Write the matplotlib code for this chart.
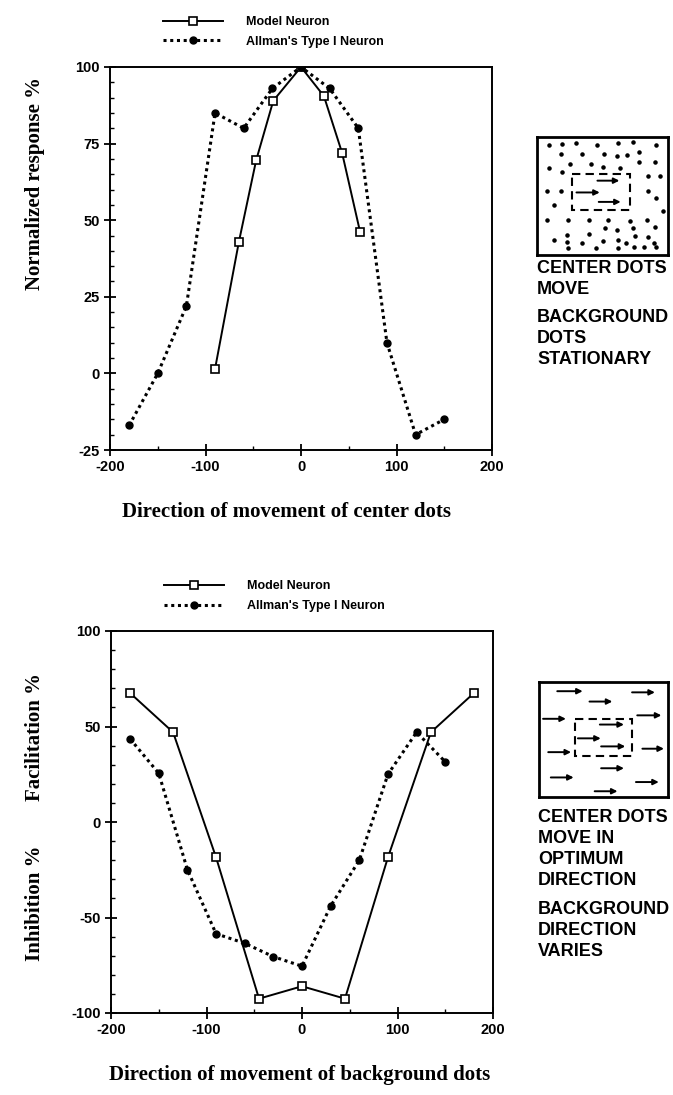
import matplotlib
matplotlib.use("Agg")
import matplotlib.pyplot as plt
from matplotlib.patches import Rectangle
from matplotlib.ticker import MultipleLocator

plt.rcParams["axes.unicode_minus"] = False

# --- data ---
# top panel: center dots move, background stationary
top_model_dir = [-90, -65, -47, -29, 0, 24, 43, 62]
top_model_resp = [1.5, 43, 69.5, 89, 100, 90.5, 72, 46]
top_allman_dir = [-180, -150, -120, -90, -60, -30, 0, 30, 60, 90, 120, 150]
top_allman_resp = [-17, 0, 22, 85, 80, 93, 100, 93, 80, 10, -20, -15]

# bottom panel: background direction varies
bot_model_dir = [-180, -135, -90, -45, 0, 45, 90, 135, 180]
bot_model_resp = [67.5, 47, -18.5, -92.5, -86, -92.5, -18.5, 47, 67.5]
bot_allman_dir = [-180, -150, -120, -90, -60, -30, 0, 30, 60, 90, 120, 150]
bot_allman_resp = [43.5, 25.5, -25, -58.5, -63.5, -70.5, -75.5, -44, -20, 25, 47, 31.5]

x_ticks = [-200, -100, 0, 100, 200]
top_y_ticks = [-25, 0, 25, 50, 75, 100]
bot_y_ticks = [-100, -50, 0, 50, 100]

legend_labels = ["Model Neuron", "Allman's Type I Neuron"]

# schematic: stationary dots (box units, y downwards)
dots_u = [0.09, 0.19, 0.30, 0.46, 0.62, 0.73, 0.91,
          0.18, 0.34, 0.51, 0.61, 0.69, 0.78,
          0.09, 0.25, 0.41, 0.50, 0.63, 0.78, 0.90,
          0.19, 0.85, 0.94,
          0.08, 0.18, 0.85,
          0.13, 0.91, 0.96,
          0.08, 0.24, 0.40, 0.54, 0.71, 0.84,
          0.52, 0.61, 0.73, 0.90,
          0.23, 0.40, 0.75, 0.85,
          0.13, 0.23, 0.34, 0.50, 0.62, 0.68, 0.89,
          0.24, 0.45, 0.62, 0.74, 0.82, 0.91]
dots_v = [0.07, 0.06, 0.05, 0.07, 0.05, 0.04, 0.07,
          0.14, 0.14, 0.14, 0.16, 0.15, 0.13,
          0.26, 0.23, 0.23, 0.25, 0.26, 0.21, 0.21,
          0.30, 0.33, 0.33,
          0.46, 0.46, 0.46,
          0.58, 0.52, 0.63,
          0.70, 0.70, 0.70, 0.70, 0.71, 0.70,
          0.77, 0.79, 0.77, 0.76,
          0.83, 0.82, 0.84, 0.85,
          0.87, 0.89, 0.90, 0.88, 0.87, 0.90, 0.90,
          0.94, 0.94, 0.94, 0.93, 0.93, 0.93]
# arrows of the moving center dots (top schematic)
center_arrows_top = [(0.44, 0.37, 0.65, 0.37), (0.28, 0.47, 0.50, 0.47), (0.45, 0.55, 0.66, 0.55)]
# arrows in bottom schematic: start u, v, end u, v
bg_arrows = [(0.12, 0.08, 0.36, 0.08), (0.37, 0.17, 0.59, 0.17), (0.70, 0.09, 0.92, 0.09),
             (0.01, 0.32, 0.23, 0.32), (0.74, 0.29, 0.97, 0.29),
             (0.45, 0.37, 0.68, 0.37), (0.28, 0.49, 0.50, 0.49), (0.46, 0.56, 0.69, 0.56),
             (0.05, 0.61, 0.27, 0.61), (0.78, 0.58, 0.99, 0.58),
             (0.46, 0.75, 0.68, 0.75), (0.07, 0.83, 0.29, 0.83), (0.73, 0.87, 0.95, 0.87),
             (0.41, 0.95, 0.63, 0.95)]

tick_font = {"family": "Liberation Sans", "weight": "bold", "size": 10.5}
label_font = {"family": "Liberation Serif", "weight": "bold", "size": 15}
note_font = {"family": "Liberation Sans", "weight": "bold", "size": 13}

W, H = 673, 1095
fig = plt.figure(figsize=(W / 100, H / 100), dpi=100)


def px_axes(left, top, right, bottom):
    return fig.add_axes([left / W, 1 - bottom / H, (right - left) / W, (bottom - top) / H])


def style_axes(ax, yticks):
    ax.set_xlim(-200, 200)
    ax.set_ylim(yticks[0], yticks[-1])
    ax.set_xticks(x_ticks)
    ax.set_yticks(yticks)
    ax.xaxis.set_minor_locator(MultipleLocator(50))
    ax.yaxis.set_minor_locator(MultipleLocator((yticks[1] - yticks[0]) / 5))
    ax.tick_params(which="major", direction="inout", length=8, width=1.3)
    ax.tick_params(which="minor", direction="in", length=3, width=1)
    for lab in ax.get_xticklabels() + ax.get_yticklabels():
        lab.set_fontproperties(tick_font)
    for sp in ax.spines.values():
        sp.set_linewidth(1.4)


def plot_pair(ax, mx, my, ax_x, ay):
    ax.plot(mx, my, color="black", linestyle="-", linewidth=1.4, marker="s",
            markersize=6, markerfacecolor="white", markeredgecolor="black",
            markeredgewidth=1.2, label=legend_labels[0])
    ax.plot(ax_x, ay, color="black", linestyle=(0, (1, 1.2)), linewidth=2.2, marker="o",
            markersize=5, markerfacecolor="black", markeredgecolor="black",
            label=legend_labels[1])
    leg = ax.legend(loc="lower left", bbox_to_anchor=(0.14, 1.05), frameon=False,
                    numpoints=1, handlelength=4.8, handletextpad=1.8, labelspacing=0.6,
                    borderpad=0, borderaxespad=0,
                    prop={"family": "Liberation Sans", "weight": "bold", "size": 9})
    return leg


# top panel
ax1 = px_axes(110, 67, 492, 450)
plot_pair(ax1, top_model_dir, top_model_resp, top_allman_dir, top_allman_resp)
style_axes(ax1, top_y_ticks)
fig.text(287 / W, 1 - 512 / H, "Direction of movement of center dots", ha="center", va="center", **label_font)
fig.text(35 / W, 1 - 183 / H, "Normalized response %", rotation=90, ha="center", va="center", **label_font)

# bottom panel
ax2 = px_axes(111, 631, 493, 1013)
plot_pair(ax2, bot_model_dir, bot_model_resp, bot_allman_dir, bot_allman_resp)
style_axes(ax2, bot_y_ticks)
fig.text(300 / W, 1 - 1075 / H, "Direction of movement of background dots", ha="center", va="center", **label_font)
fig.text(35 / W, 1 - 737 / H, "Facilitation %", rotation=90, ha="center", va="center", **label_font)
fig.text(35 / W, 1 - 903 / H, "Inhibition %", rotation=90, ha="center", va="center", **label_font)


def schematic(left, top, right, bottom, dashed):
    sx = px_axes(left, top, right, bottom)
    sx.set_xlim(0, 1)
    sx.set_ylim(1, 0)
    sx.set_xticks([])
    sx.set_yticks([])
    for sp in sx.spines.values():
        sp.set_linewidth(2)
    sx.add_patch(Rectangle((dashed[0], dashed[1]), dashed[2] - dashed[0], dashed[3] - dashed[1],
                           fill=False, linestyle=(0, (4, 2.5)), linewidth=1.5, edgecolor="black"))
    return sx


sx1 = schematic(537, 137, 668, 255, (0.27, 0.31, 0.71, 0.62))
sx1.scatter(dots_u, dots_v, s=5, color="black")
for u0, v0, u1, v1 in center_arrows_top:
    sx1.annotate("", xy=(u1, v1), xytext=(u0, v0),
                 arrowprops=dict(arrowstyle="-|>", color="black", lw=1.4, mutation_scale=8))

sx2 = schematic(539, 682, 668, 797, (0.28, 0.32, 0.72, 0.64))
for u0, v0, u1, v1 in bg_arrows:
    sx2.annotate("", xy=(u1, v1), xytext=(u0, v0),
                 arrowprops=dict(arrowstyle="-|>", color="black", lw=1.4, mutation_scale=8))

fig.text(537 / W, 1 - 260 / H, "CENTER DOTS\nMOVE", ha="left", va="top", linespacing=1.3, **note_font)
fig.text(537 / W, 1 - 309 / H, "BACKGROUND\nDOTS\nSTATIONARY", ha="left", va="top", linespacing=1.3, **note_font)
fig.text(538 / W, 1 - 809 / H, "CENTER DOTS\nMOVE IN\nOPTIMUM\nDIRECTION", ha="left", va="top", linespacing=1.3, **note_font)
fig.text(538 / W, 1 - 901 / H, "BACKGROUND\nDIRECTION\nVARIES", ha="left", va="top", linespacing=1.3, **note_font)

fig.savefig("out.png", dpi=100)
